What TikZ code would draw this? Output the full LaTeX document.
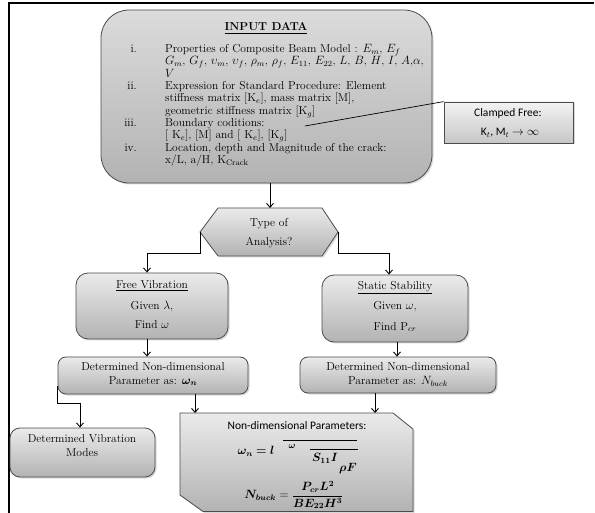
\documentclass[tikz,border=0pt]{standalone}
\usepackage{amsmath}
\usepackage{bm}
\usepackage{fontspec}
\newfontfamily\calib{Carlito}
\usetikzlibrary{arrows.meta,shadows,calc}
\begin{document}
\begin{tikzpicture}[x=1pt,y=-1pt,
  box/.style={draw=black!70, line width=0.8pt, top color=black!8, bottom color=black!30,
    drop shadow={opacity=0.3,shadow xshift=1.5pt,shadow yshift=-1.5pt}},
  txt/.style={inner sep=0pt, font=\fontsize{11.5}{12}\selectfont},
  stxt/.style={inner sep=0pt, font=\calib\fontsize{11.5}{12}\selectfont},
  arr/.style={-{Straight Barb[length=4pt,width=7pt]}, line width=0.9pt, black},
  ln/.style={line width=0.8pt, black}
]
\useasboundingbox (0,0) rectangle (595,513);
\fill[white] (0,0) rectangle (595,513);
% frame
\draw[line width=1.5pt] (9,513) -- (9,3) -- (594,3);

% input box
\node[box, rounded corners=28pt, minimum width=331pt, minimum height=173pt,
  top color=black!14, bottom color=black!30] (input) at (266.5,96.5) {};
\node[txt, anchor=base] at (266,31) {\textbf{\underline{INPUT DATA}}};
\node[txt, anchor=base east] at (137,52.5) {i.};
\node[txt, anchor=base east] at (137,89.6) {ii.};
\node[txt, anchor=base east] at (137,126.6) {iii.};
\node[txt, anchor=base east] at (137,151.3) {iv.};
\node[txt, anchor=base west] at (165,52.5) {Properties of Composite Beam Model : $E_m$, $E_f$};
\node[txt, anchor=base west] at (165,64.9) {$G_m$, $G_f$, $\upsilon_m$, $\upsilon_f$, $\rho_m$, $\rho_f$, $E_{11}$, $E_{22}$, $L$, $B$, $H$, $I$, $A$,$\alpha$,};
\node[txt, anchor=base west] at (165,77.2) {$V$};
\node[txt, anchor=base west] at (165,89.6) {Expression for Standard Procedure: Element};
\node[txt, anchor=base west] at (165,101.9) {stiffness matrix [K$_e$], mass matrix [M],};
\node[txt, anchor=base west] at (165,114.3) {geometric stiffness matrix [K$_g$]};
\node[txt, anchor=base west] at (165,126.6) {Boundary coditions:};
\node[txt, anchor=base west] at (165,139) {[ K$_e$], [M] and [ K$_e$], [K$_g$]};
\node[txt, anchor=base west] at (165,151.3) {Location, depth and Magnitude of the crack:};
\node[txt, anchor=base west] at (165,163.7) {x/L, a/H, K$_{\mathrm{Crack}}$};

% clamped free
\node[box, minimum width=129pt, minimum height=41pt, top color=black!5, bottom color=black!22] (clamp) at (508.5,122.5) {};
\node[stxt] at (508,113) {Clamped Free:};
\node[stxt] at (510,133) {K$_t$, M$_t$ $\rightarrow\infty$};
\coordinate (cfin) at (305,126);
\draw[ln, line width=0.7pt] (cfin) -- (clamp.north west);

% hexagon
\coordinate (hL) at (200,232);
\coordinate (hR) at (338,232);
\coordinate (hT) at (270,208);
\draw[box] (218,208) -- (322,208) -- (hR) -- (322,256) -- (218,256) -- (hL) -- cycle;
\node[txt, align=center, font=\fontsize{11.5}{19}\selectfont] (toa) at (269,233) {Type of\\Analysis?};
\draw[arr] (input.south -| hT) -- (hT);

% analysis boxes
\node[box, rounded corners=12pt, minimum width=152pt, minimum height=66pt] (fv) at (152,306) {};
\node[txt] at (152,286) {\underline{Free Vibration}};
\node[txt] at (152,306) {Given $\lambda$,};
\node[txt] at (152,325) {Find $\omega$};

\node[box, rounded corners=12pt, minimum width=146pt, minimum height=67pt] (ss) at (395,308.5) {};
\node[txt] at (395,288) {\underline{Static Stability}};
\node[txt] at (395,307) {Given $\omega$,};
\node[txt] at (395,327) {Find P$_{cr}$};

\draw[arr] (hL) -- ++(0,21) -| ([xshift=-5pt]fv.north);
\draw[arr] (hR) -- ++(0,21) -| ([xshift=-6pt]ss.north);

% determined boxes
\node[box, rounded corners=8pt, minimum width=190pt, minimum height=37pt] (ld) at (153,375.5) {};
\node[txt] at (153,367) {Determined Non-dimensional};
\node[txt] at (153,381) {Parameter as: $\bm{\omega_n}$};

\node[box, rounded corners=8pt, minimum width=196pt, minimum height=36pt] (rd) at (398,375) {};
\node[txt] at (398,367) {Determined Non-dimensional};
\node[txt] at (398,381) {Parameter as: $N_{buck}$};

\draw[arr] ([xshift=-5pt]fv.south) -- ([xshift=-5pt]fv.south |- ld.north);
\draw[arr] ([xshift=2pt]ss.south) -- ([xshift=2pt]ss.south |- rd.north);

% vibration modes
\node[box, rounded corners=10pt, minimum width=145pt, minimum height=49pt] (dvm) at (82.5,452.5) {};
\node[txt, align=center, font=\fontsize{11.5}{14}\selectfont] at (82,446) {Determined Vibration\\Modes};
\draw[arr] ([yshift=8pt]ld.south west) -- ([yshift=-9pt]ld.south west) -| ([xshift=-2.5pt]dvm.north);

% non-dimensional parameters box
\coordinate (npT1) at (195,413);
\coordinate (npT2) at (375,413);
\draw[box] (180,413) -- (393,413) -- (413,429) -- (413,511.5) -- (203,511.5) -- (180,495) -- cycle;
\draw[arr] (ld.south -| npT1) -- (npT1);
\draw[arr] (rd.south -| npT2) -- (npT2);
\node[stxt] at (297,426) {Non-dimensional Parameters:};
\node[txt] at (256,451) {$\bm{\omega_n = l}$};
\draw[line width=0.8pt] (283,440) -- (357,440);
\node[inner sep=0pt, font=\fontsize{9}{10}\selectfont] at (292,446) {$\bm{\omega}$};
\draw[line width=0.8pt] (310,449) -- (358,449);
\node[txt] at (325,458) {$\bm{S_{11}I}$};
\node[txt] at (348,469) {$\bm{\rho F}$};
\node[txt] at (294,495) {$\bm{N_{buck}} = \dfrac{\bm{P_{cr}L^2}}{\bm{BE_{22}H^3}}$};
\end{tikzpicture}
\end{document}
